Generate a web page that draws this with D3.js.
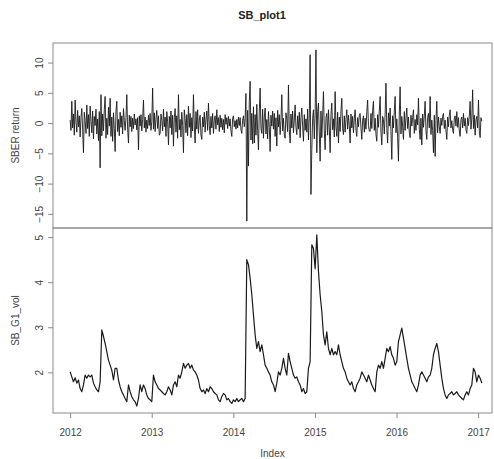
<!DOCTYPE html>
<html>
<head>
<meta charset="utf-8">
<script src="https://cdn.jsdelivr.net/npm/d3@7"></script>
<style>
  body { margin: 0; background: #fff; }
  text { font-family: "Liberation Sans", Arial, sans-serif; }
</style>
</head>
<body>
<svg id="chart" width="494" height="459"></svg>
<script>
// values
var yearTicks = [2012, 2013, 2014, 2015, 2016, 2017];
var returnTicks = [-15, -10, -5, 0, 5, 10];
var volTicks = [2, 3, 4, 5];
var firstYear = 2012.0, lastYear = 2017.045;

var sberReturn = [
  0.5, -1.2, 3.6, -0.8, 1.5, -2.0, 3.8, 0.2, -1.5, 2.1, -0.6, 1.2, -2.3, 0.9, 2.4, -1.1, -4.9, 1.8, 0.4, -1.7,
  3.0, -0.9, 1.4, -2.2, 2.8, 0.3, -1.6, 2.0, -2.6, 1.1, -0.4, 2.3, -1.8, 0.7, -2.9, 1.9, -7.4, 4.7, -2.1, 1.5,
  -1.3, 2.2, 4.4, -2.5, 0.8, -1.9, 2.6, -0.5, 4.1, -2.2, 1.0, -3.0, 1.7, -0.9, -4.7, 2.0, 3.6, -1.4, 0.6, -2.1,
  1.8, -0.7, 1.2, -1.8, 2.4, 0.4, -1.2, 0.9, 4.7, -1.0, -3.3, 1.3, -0.6, 1.1, -1.4, 0.8, -0.9, 1.5, -0.3, 0.7,
  -1.1, 0.9, -4.4, 1.2, -0.5, 1.4, -1.3, 0.6, 3.8, -0.8, 1.0, -1.5, 0.5, -0.9, 1.3, -0.4, 1.6, -1.2, 0.3, 5.8,
  -1.0, 1.7, -1.4, 0.8, 2.1, -0.9, 1.2, -2.0, -1.7, 1.5, 0.4, -1.3, 2.3, -0.6, 1.0, -2.2, 1.9, 0.2, -3.6, 1.1,
  -0.8, 2.0, -1.9, 1.3, -3.8, 0.9, 2.4, -1.5, 1.2, -2.5, 4.7, -1.1, 0.6, -2.3, 1.8, -0.4, -4.9, 2.2, 0.7, -1.6,
  1.4, -2.1, 2.8, -0.7, 1.6, -2.4, 0.9, -1.3, 4.7, -0.5, -3.3, 1.9, -1.0, 2.2, -1.7, 0.5, 1.3, -2.0, -2.7, 1.0,
  -0.6, 1.8, -1.5, 0.7, 2.0, -1.2, 3.3, -0.4, -1.9, 1.1, -0.8, 1.6, -1.7, 0.5, 1.2, -1.0, 2.2, -0.3, 0.9, -1.4,
  1.3, -0.7, 0.8, -1.1, 0.6, -1.6, 1.4, -0.2, 0.9, -0.9, 1.1, -0.5, 0.7, -1.3, -2.2, 0.8, 1.2, -0.6, 0.4, -1.0,
  0.6, -0.8, 1.0, -0.4, 0.9, -1.1, -1.7, 0.5, 1.2, -0.6, 0.8, 4.9, -16.2, 2.1, -7.1, 3.5, 6.9, -2.8, 1.6, -3.4,
  2.7, -3.3, 1.4, -2.0, 3.1, -1.2, -4.4, 2.0, 5.8, -0.9, -1.7, 2.3, -2.5, 1.0, 2.5, -1.8, 0.6, -2.6, 1.9, -0.7,
  -4.7, 1.3, -0.5, 2.0,
  -1.0, 1.6, -2.2, 0.9, -3.8, 2.1, -0.6, 1.4, -1.9, 0.4, 4.7, -1.3, 0.8, -2.0, -2.5, 1.7, 0.6, -1.4, 6.3, -1.1,
  -3.3, 1.5, -0.8, 2.0, -1.6, 0.5, 3.0, -0.7, -1.9, 1.2, -1.0, 1.8, -2.4, 0.9, 2.5, -0.5, -3.0, 1.4, -1.2, 0.7,
  -1.5, 2.3, -2.8, 1.0, 11.3, -11.8, -4.4, 0.8, 2.2, -2.6, 1.5, 12.1, -4.9, 1.9, 3.3, -1.8, -6.3, 2.0, -2.4, 1.2,
  5.2, -1.3, -4.4, 0.9, 1.6, -2.0, 2.2, -0.8, -4.9, 1.4, 3.3, -1.1, 0.7, -2.3, 5.2, -0.6, -2.2, 1.8, -3.3, 1.0,
  -1.4, 2.0, 4.1, -0.9, -1.9, 1.2, -1.5, 0.6, 2.2, -1.0, 1.3, -0.4, -3.3, 1.5, -0.8, 1.1, -1.6, 0.7, 2.2, -1.2,
  -2.2, 0.9, -0.6, 1.3, 1.6, -0.8, -2.7, 0.5, 1.2, -1.5, 0.8, -1.0, 1.9, 3.8, -0.4, -1.3, -1.4, 1.6, -0.9, 2.1,
  3.6, -1.2, 0.8, -1.9, -3.0, 1.4, -0.7, 2.0, 4.4, -1.5, -3.6, 1.1, 0.6, -1.8, 1.5, 6.6, -0.9, -3.3, 1.7, -0.5,
  2.5, -1.4, -6.0, 1.2, -0.8, 2.0, 4.4, -1.6, 0.7, -2.4, -6.3, 1.5, 6.0, -1.8, 1.1, -0.6, -2.7, 1.9, -1.2, 0.8,
  2.5, -0.9, 1.0, -1.5, -2.4, 1.3, -0.5, 0.9, 2.2, -1.7, 0.6, -1.2, 1.4, -0.3, 4.1, -1.0, -2.7, 0.8, -3.6, 1.5,
  -0.7, 1.2, 3.6, -1.3, -2.7, 0.9, 1.6, -0.8, 4.4, -1.9, 0.5, -1.2, -4.9, 1.3, -5.5, 0.4, 3.6, -1.6, 1.0, -0.6,
  -1.7, 0.8, -0.4, 1.1, 1.6, -0.9, 0.5, -1.2, -2.7, 1.0, -0.6, 1.3, 2.2, -0.8, 0.4, -1.1, -1.7, 0.7, 1.2, -0.5,
  1.9, -0.7, 0.9, -1.3, -2.2, 0.6, 1.0, -0.8, 1.6, -0.5, 0.8, -1.1, -1.7, 0.9, -0.4, 1.2, 3.6, -1.0, 0.7, 5.5,
  -0.9, 1.3, -2.0, 0.6, 1.1, -0.8, 3.8, -1.2, -2.4, 0.9, 0.3
];

var sbVol = [
  2.01, 1.90, 1.79, 1.88, 1.76, 1.83, 1.64, 1.57, 1.72, 1.94,
  1.87, 1.94, 1.90, 1.94, 1.76, 1.68, 1.61, 1.57, 1.79, 2.94,
  2.80, 2.64, 2.46, 2.27, 2.16, 2.05, 1.83, 2.09, 2.09, 1.83,
  1.68, 1.57, 1.50, 1.42, 1.35, 1.72, 1.57, 1.46, 1.39, 1.35,
  1.25, 1.42, 1.72, 1.57, 1.72, 1.64, 1.50, 1.42, 1.39, 1.35,
  1.94, 1.79, 1.72, 1.64, 1.61, 1.57, 1.53, 1.50, 1.57, 1.68,
  1.61, 1.50, 1.72, 1.79, 1.68, 1.94, 1.87, 2.01, 2.20, 2.09,
  2.16, 2.20, 2.09, 2.16, 2.05, 2.01, 1.94, 1.83, 1.64, 1.57,
  1.61, 1.53, 1.64, 1.57, 1.68, 1.64, 1.57, 1.53, 1.50, 1.39,
  1.35, 1.46, 1.53, 1.50, 1.39, 1.42, 1.35, 1.31, 1.39, 1.35,
  1.42, 1.35, 1.39, 1.42, 1.35, 1.42, 4.50, 4.39, 4.09, 3.72,
  3.27, 2.83, 2.53, 2.68, 2.46, 2.61, 2.39, 2.16, 2.09, 2.01,
  1.94, 1.79, 1.72,
  1.57, 1.76, 2.01, 1.94, 2.09, 2.31, 2.09, 1.94, 2.42, 2.24,
  2.09, 1.94, 1.87, 1.90, 1.79, 1.72, 1.57, 1.64, 1.53, 1.57,
  2.09, 2.24, 4.83, 4.75, 4.30, 5.05, 4.24, 3.72, 3.35, 2.83,
  2.61, 2.90, 2.53, 2.39, 2.53, 2.39, 2.46, 2.39, 2.61, 2.39,
  2.24, 2.09, 2.01, 1.87, 1.79, 1.72, 1.79, 1.64, 1.57, 1.72,
  1.79, 1.87, 2.01, 1.94, 1.87, 1.79, 1.94, 1.83, 1.72, 1.64,
  1.57, 2.01, 2.16, 2.09, 2.24, 2.09, 2.31, 2.53, 2.46, 2.57,
  2.39, 2.31, 2.16, 2.24, 2.68, 2.83, 2.98, 2.76, 2.53, 2.31,
  2.09, 1.94, 1.79, 1.72, 1.64, 1.57, 1.72, 1.94, 2.01, 1.94,
  1.87, 1.79, 1.90, 1.94, 2.09, 2.39, 2.53, 2.64, 2.46, 2.16,
  1.87, 1.64, 1.50, 1.42, 1.50, 1.53, 1.57, 1.50, 1.53, 1.57,
  1.50, 1.46, 1.42, 1.39, 1.50, 1.57, 1.50, 1.64, 1.72, 2.09,
  2.01, 1.79, 1.94, 1.87, 1.76
];

var svg = d3.select('#chart'),
    left = 53, right = 492,
    top1 = 43, mid = 228, bottom = 413,
    axisColor = '#8a8a8a',
    textColor = '#444';

// R style 4% padding round the data range
function padded(values) {
  var ext = d3.extent(values), pad = (ext[1] - ext[0]) * 0.04;
  return [ext[0] - pad, ext[1] + pad];
}

function withYears(values) {
  var step = (lastYear - firstYear) / (values.length - 1);
  return values.map(function(v, i) { return {year: firstYear + i * step, value: v}; });
}

var x = d3.scaleLinear().domain([2011.79, 2017.17]).range([left, right]);
var yRet = d3.scaleLinear().domain(padded(sberReturn)).range([mid, top1]);
var yVol = d3.scaleLinear().domain(padded(sbVol)).range([bottom, mid]);

function drawPanel(y, ticks, values, label, y0, y1, width) {
  var g = svg.append('g');

  g.append('path')
    .datum(withYears(values))
    .attr('fill', 'none')
    .attr('stroke', '#1a1a1a')
    .attr('stroke-width', width)
    .attr('stroke-linejoin', 'round')
    .attr('d', d3.line().x(function(d) { return x(d.year); }).y(function(d) { return y(d.value); }));

  g.append('rect')
    .attr('x', left).attr('y', y0)
    .attr('width', right - left).attr('height', y1 - y0)
    .attr('fill', 'none').attr('stroke', axisColor).attr('stroke-width', 1);

  var ax = g.append('g')
    .attr('transform', 'translate(' + left + ',0)')
    .call(d3.axisLeft(y).tickValues(ticks).tickFormat(d3.format('d')).tickSize(5).tickSizeOuter(0));
  ax.select('.domain').remove();
  ax.selectAll('line').attr('stroke', axisColor);
  ax.selectAll('text')
    .attr('x', 0).attr('dy', null)
    .attr('transform', 'translate(-10,0) rotate(-90)')
    .attr('text-anchor', 'middle')
    .attr('fill', textColor)
    .style('font-size', '10px');

  g.append('text')
    .attr('transform', 'translate(19,' + ((y0 + y1) / 2) + ') rotate(-90)')
    .attr('text-anchor', 'middle')
    .attr('fill', textColor)
    .style('font-size', '10px')
    .text(label);
}

drawPanel(yRet, returnTicks, sberReturn, 'SBER return', top1, mid, 0.9);
drawPanel(yVol, volTicks, sbVol, 'SB_G1_vol', mid, bottom, 1.2);

var xa = svg.append('g')
  .attr('transform', 'translate(0,' + bottom + ')')
  .call(d3.axisBottom(x).tickValues(yearTicks).tickFormat(d3.format('d')).tickSize(5).tickSizeOuter(0));
xa.select('.domain').remove();
xa.selectAll('line').attr('stroke', axisColor);
xa.selectAll('text')
  .attr('y', 16)
  .attr('fill', textColor)
  .style('font-size', '10px');

svg.append('text')
  .attr('x', (left + right) / 2).attr('y', 457)
  .attr('text-anchor', 'middle')
  .attr('fill', textColor)
  .style('font-size', '10px')
  .text('Index');

svg.append('text')
  .attr('x', 262).attr('y', 19)
  .attr('text-anchor', 'middle')
  .attr('fill', '#222')
  .style('font-size', '11px')
  .style('font-weight', 'bold')
  .text('SB_plot1');
</script>
</body>
</html>
